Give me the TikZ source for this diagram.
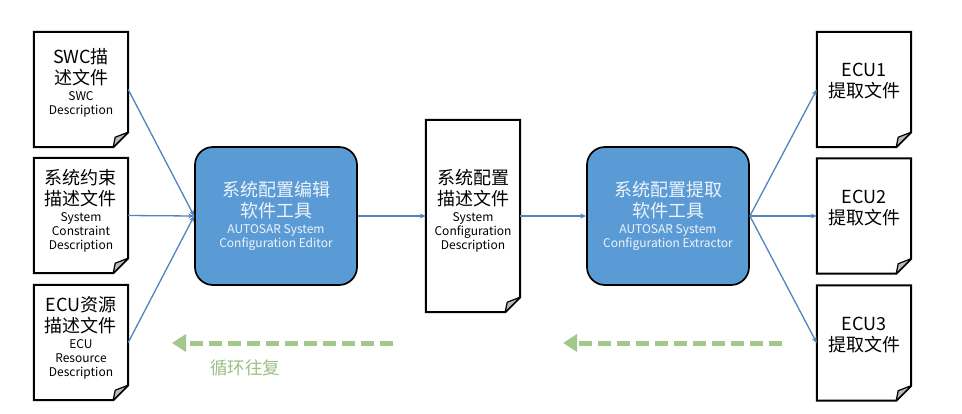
\documentclass[tikz,border=0pt]{standalone}
\usepackage{fontspec}
\setmainfont{Noto Sans CJK SC}
\usetikzlibrary{arrows.meta,calc}
\definecolor{boxblue}{HTML}{5B9BD5}
\definecolor{arrblue}{HTML}{4F84BF}
\definecolor{dgreen}{HTML}{A2C88A}
\definecolor{tgreen}{HTML}{9CBF84}
\definecolor{boxtext}{HTML}{EEF4FB}
\newcommand\cnf{\fontsize{18}{21}\selectfont}
\newcommand\enf{\fontsize{12}{14}\selectfont}
\newcommand\docout[1]{%
  \draw[docline] (#1.north west) -- (#1.north east) -- ([yshift=15pt]#1.south east)
     -- ([xshift=-15pt]#1.south east) -- (#1.south west) -- cycle;
  \draw[foldline] ([yshift=15pt]#1.south east) -- ([xshift=-13pt,yshift=10pt]#1.south east)
     -- ([xshift=-15pt]#1.south east) -- cycle;}
\tikzset{
  docnode/.style={draw=none, minimum width=94pt, minimum height=115pt, inner sep=0pt},
  docline/.style={line width=2pt, line join=miter, fill=white},
  foldline/.style={line width=1.2pt, fill=gray!55, line join=round},
  doctext/.style={align=center, font=\cnf, inner sep=0pt},
  toolbox/.style={rounded corners=18pt, draw=black, line width=1.7pt, fill=boxblue,
     minimum width=162pt, minimum height=138pt},
  tooltext/.style={align=center, font=\cnf, text=boxtext, inner sep=0pt},
  flow/.style={draw=arrblue, line width=1.3pt, -{Stealth[length=6pt,width=5pt]}},
  loop/.style={draw=dgreen, line width=5pt, dash pattern=on 13pt off 6pt,
     -{Triangle[length=14pt,width=17pt]}},
  looptext/.style={text=tgreen, font=\fontsize{17.5}{20}\selectfont, inner sep=0pt}
}
\begin{document}
\begin{tikzpicture}[x=1pt,y=-1pt]
\fill[white] (0,0) rectangle (962,413);
\useasboundingbox (0,0) rectangle (962,413);

% left documents
\node[docnode] (swc) at (81,89.5) {};
\node[docnode] (sys) at (81,215.5) {};
\node[docnode] (ecur) at (81,342.5) {};
\docout{swc}\docout{sys}\docout{ecur}
\node[doctext] (swct) at ([yshift=7pt]swc.center)
  {SWC描\\述文件\\[-5pt]{\enf SWC}\\[-7pt]{\enf Description}};
\node[doctext] (syst) at ([yshift=5pt]sys.center)
  {系统约束\\描述文件\\[-5pt]{\enf System}\\[-7pt]{\enf Constraint}\\[-7pt]{\enf Description}};
\node[doctext] (ecurt) at ([yshift=5pt]ecur.center)
  {ECU资源\\描述文件\\[-5pt]{\enf ECU}\\[-7pt]{\enf Resource}\\[-7pt]{\enf Description}};

% editor
\node[toolbox] (editor) at (276,216) {};
\node[tooltext] (editort) at (editor.center)
  {系统配置编辑\\软件工具\\[-5pt]{\enf AUTOSAR System}\\[-7pt]{\enf Configuration Editor}};

% middle document
\node[docnode, minimum height=192pt] (scd) at (473,216) {};
\docout{scd}
\node[doctext] (scdt) at ([yshift=5pt]scd.center)
  {系统配置\\描述文件\\[-5pt]{\enf System}\\[-7pt]{\enf Configuration}\\[-7pt]{\enf Description}};

% extractor
\node[toolbox] (extr) at (668,216) {};
\node[tooltext] (extrt) at (extr.center)
  {系统配置提取\\软件工具\\[-5pt]{\enf AUTOSAR System}\\[-7pt]{\enf Configuration Extractor}};

% right documents
\node[docnode] (ecu1) at (864,89.5) {};
\node[docnode] (ecu2) at (864,216) {};
\node[docnode] (ecu3) at (864,343) {};
\docout{ecu1}\docout{ecu2}\docout{ecu3}
\node[doctext] (ecu1t) at ([yshift=8pt]ecu1.center) {ECU1\\提取文件};
\node[doctext] (ecu2t) at ([yshift=8pt]ecu2.center) {ECU2\\提取文件};
\node[doctext] (ecu3t) at ([yshift=8pt]ecu3.center) {ECU3\\提取文件};

% flows
\draw[flow] (swc.east) -- (editor.west);
\draw[flow] (sys.east) -- (editor.west);
\draw[flow] (ecur.east) -- (editor.west);
\draw[flow] (editor.east) -- (scd.west);
\draw[flow] (scd.east) -- (extr.west);
\draw[flow] (extr.east) -- (ecu1.west);
\draw[flow] (extr.east) -- (ecu2.west);
\draw[flow] (extr.east) -- (ecu3.west);

% loop arrows
\coordinate (l1s) at (393,343);
\coordinate (l1e) at (172,343);
\coordinate (l2s) at (782,343);
\coordinate (l2e) at (563,343);
\draw[loop] (l1s) -- (l1e);
\draw[loop] (l2s) -- (l2e);
\node[looptext] (looplbl) at (245,368) {循环往复};
\end{tikzpicture}
\end{document}
